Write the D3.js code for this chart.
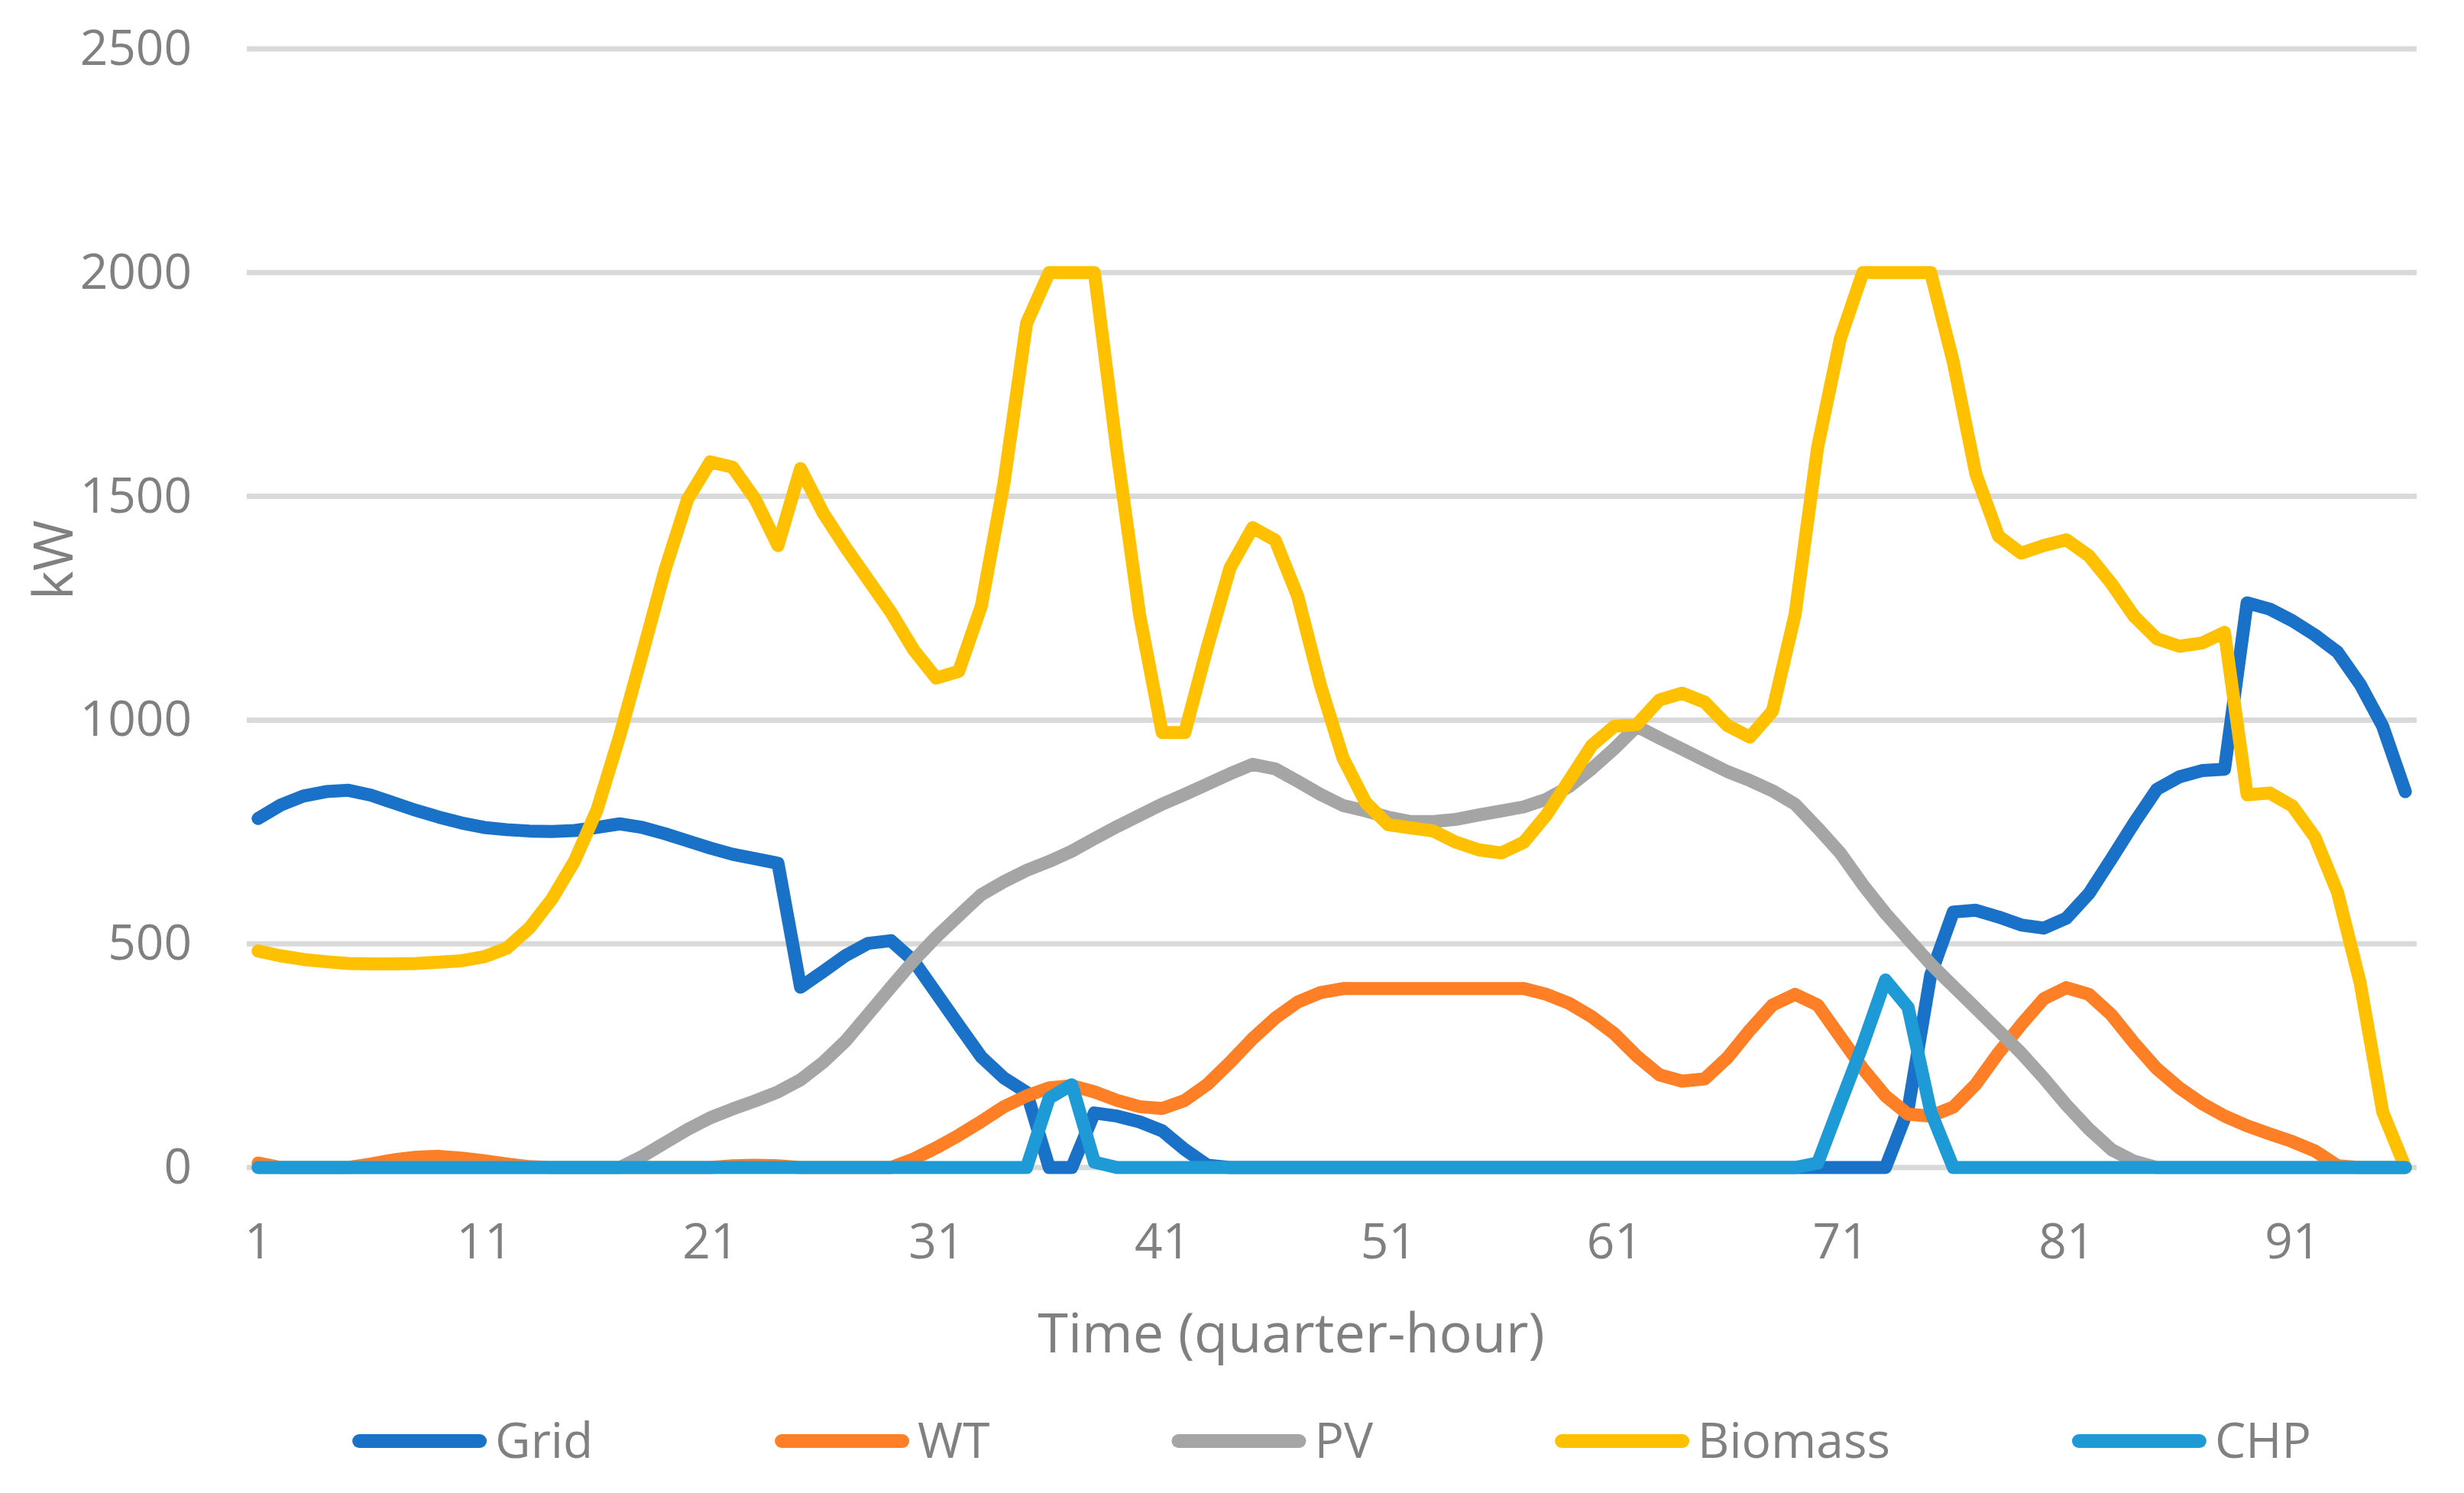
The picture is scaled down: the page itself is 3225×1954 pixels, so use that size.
<!DOCTYPE html>
<html>
<head>
<meta charset="utf-8">
<style>
  html, body { margin: 0; padding: 0; background: #fff; }
  svg text { font-family: "Open Sans", "Noto Sans", sans-serif; fill: #808080; }
</style>
</head>
<body>
<div id="chart"></div>
<script src="https://d3js.org/d3.v7.min.js"></script>
<script>
    // quarter-hour index 1..96
    const times = d3.range(1, 97);
    const xTicks = [1, 11, 21, 31, 41, 51, 61, 71, 81, 91];
    const yTicks = [0, 500, 1000, 1500, 2000, 2500];

    const grid = [780, 810, 830, 840, 843, 832, 815, 798, 783, 770, 760, 755, 752, 751, 753, 760, 768, 760, 746, 730,
        714, 700, 690, 680, 403, 438, 474, 501, 507, 462, 390, 318, 247, 200, 168, 0, 0, 122, 115, 102,
        82, 40, 5, 0, 0, 0, 0, 0, 0, 0, 0, 0, 0, 0, 0, 0, 0, 0, 0, 0,
        0, 0, 0, 0, 0, 0, 0, 0, 0, 0, 0, 0, 0, 130, 430, 571, 575, 560, 542, 535,
        557, 612, 690, 770, 845, 873, 887, 890, 1262, 1248, 1222, 1190, 1152, 1080, 986, 840];

    const wt = [10, 0, 0, 0, 0, 8, 17, 23, 25, 21, 15, 8, 2, 0, 0, 0, 0, 0, 0, 0,
        0, 4, 5, 4, 0, 0, 0, 0, 0, 19, 44, 72, 103, 136, 160, 178, 183, 169, 150, 136,
        132, 150, 186, 235, 288, 334, 370, 391, 400, 400, 400, 400, 400, 400, 400, 400, 400, 387, 367, 337,
        299, 249, 207, 193, 198, 245, 307, 363, 387, 363, 292, 221, 160, 119, 115, 135, 186, 256, 319, 377,
        402, 387, 341, 278, 221, 178, 143, 115, 93, 75, 58, 37, 4, 0, 0, 0];

    const pv = [0, 0, 0, 0, 0, 0, 0, 0, 0, 0, 0, 0, 0, 0, 0, 0, 0, 25, 55, 85,
        111, 131, 149, 169, 196, 235, 283, 343, 403, 462, 515, 563, 610, 639, 664, 684, 707, 735, 762, 787,
        812, 834, 857, 880, 901, 891, 863, 834, 809, 797, 783, 773, 773, 778, 788, 797, 806, 823, 851, 891,
        936, 986, 960, 935, 910, 885, 865, 842, 812, 759, 703, 632, 568, 511, 455, 405, 356, 306, 256, 200,
        140, 86, 40, 14, 0, 0, 0, 0, 0, 0, 0, 0, 0, 0, 0, 0];

    const biomass = [484, 473, 465, 460, 456, 455, 455, 456, 459, 462, 471, 490, 535, 600, 685, 800, 965, 1148, 1335, 1493,
        1577, 1565, 1493, 1390, 1562, 1463, 1385, 1313, 1241, 1157, 1094, 1109, 1255, 1530, 1887, 2000, 2000, 2000, 1600, 1235,
        972, 972, 1163, 1340, 1430, 1402, 1276, 1078, 915, 816, 766, 759, 752, 727, 710, 703, 727, 788, 865, 943,
        986, 990, 1045, 1060, 1040, 988, 962, 1020, 1236, 1610, 1852, 2000, 2000, 2000, 2000, 1800, 1550, 1411, 1373, 1390,
        1403, 1367, 1305, 1232, 1182, 1165, 1172, 1196, 833, 837, 808, 738, 615, 413, 124, 0];

    const chp = [0, 0, 0, 0, 0, 0, 0, 0, 0, 0, 0, 0, 0, 0, 0, 0, 0, 0, 0, 0,
        0, 0, 0, 0, 0, 0, 0, 0, 0, 0, 0, 0, 0, 0, 0, 155, 185, 12, 0, 0,
        0, 0, 0, 0, 0, 0, 0, 0, 0, 0, 0, 0, 0, 0, 0, 0, 0, 0, 0, 0,
        0, 0, 0, 0, 0, 0, 0, 0, 0, 10, 143, 275, 419, 358, 125, 0, 0, 0, 0, 0,
        0, 0, 0, 0, 0, 0, 0, 0, 0, 0, 0, 0, 0, 0, 0, 0];

    const seriesNames = ['Grid', 'WT', 'PV', 'Biomass', 'CHP'];
    const seriesColors = ['#1a72c8', '#ff7f27', '#a5a5a5', '#ffc000', '#1e9bd7'];
    const seriesValues = [grid, wt, pv, biomass, chp];

    const W = 3225, H = 1954;
    const plot = { left: 323, right: 3163, top: 64, bottom: 1528 };

    const svg = d3.select('#chart')
        .append('svg')
        .attr('width', W)
        .attr('height', H)
        .style('display', 'block');

    svg.append('rect').attr('width', W).attr('height', H).attr('fill', '#fff');

    const x = d3.scalePoint()
        .domain(times)
        .range([plot.left, plot.right])
        .padding(0.5);

    const y = d3.scaleLinear()
        .domain([0, 2500])
        .range([plot.bottom, plot.top]);

    // gridlines
    svg.append('g')
        .selectAll('line')
        .data(yTicks)
        .join('line')
        .attr('x1', plot.left)
        .attr('x2', plot.right)
        .attr('y1', d => y(d))
        .attr('y2', d => y(d))
        .attr('stroke', '#d9d9d9')
        .attr('stroke-width', 7);

    // y axis labels
    const yAxis = svg.append('g')
        .attr('transform', `translate(${plot.left},0)`)
        .call(d3.axisLeft(y).tickValues(yTicks).tickFormat(d3.format('d')).tickSize(0).tickPadding(72));
    yAxis.select('.domain').remove();
    yAxis.selectAll('text')
        .attr('font-size', 64)
        .attr('font-family', null)
        .attr('fill', '#808080');

    // x axis labels
    const xAxis = svg.append('g')
        .attr('transform', `translate(0,${plot.bottom})`)
        .call(d3.axisBottom(x).tickValues(xTicks).tickSize(0).tickPadding(74));
    xAxis.select('.domain').remove();
    xAxis.selectAll('text')
        .attr('font-size', 64)
        .attr('font-family', null)
        .attr('fill', '#808080');

    // lines
    const line = d3.line()
        .x((d, i) => x(times[i]))
        .y(d => y(d));

    seriesValues.forEach((vals, k) => {
        svg.append('path')
            .datum(vals)
            .attr('fill', 'none')
            .attr('stroke', seriesColors[k])
            .attr('stroke-width', 17)
            .attr('stroke-linejoin', 'round')
            .attr('stroke-linecap', 'round')
            .attr('d', line);
    });

    // axis titles
    svg.append('text')
        .attr('x', 1690)
        .attr('y', 1770)
        .attr('text-anchor', 'middle')
        .attr('font-size', 72)
        .text('Time (quarter-hour)');

    svg.append('text')
        .attr('transform', 'translate(95,733) rotate(-90)')
        .attr('text-anchor', 'middle')
        .attr('font-size', 72)
        .text('kW');

    // legend
    const legend = svg.append('g');
    const legY = 1886, lineLen = 176, gapText = 11, gapItem = 238;
    const items = seriesNames.map((name, k) => {
        const g = legend.append('g');
        g.append('line')
            .attr('x1', 9).attr('x2', lineLen - 9)
            .attr('y1', legY).attr('y2', legY)
            .attr('stroke', seriesColors[k])
            .attr('stroke-width', 18)
            .attr('stroke-linecap', 'round');
        const t = g.append('text')
            .attr('x', lineLen + gapText)
            .attr('y', legY)
            .attr('dy', '0.35em')
            .attr('font-size', 64)
            .text(name);
        return { g, w: lineLen + gapText + t.node().getComputedTextLength() };
    });
    const total = d3.sum(items, d => d.w) + gapItem * (items.length - 1);
    let cx = (plot.left + plot.right) / 2 - total / 2;
    items.forEach(it => {
        it.g.attr('transform', `translate(${cx},0)`);
        cx += it.w + gapItem;
    });
</script>
</body>
</html>
